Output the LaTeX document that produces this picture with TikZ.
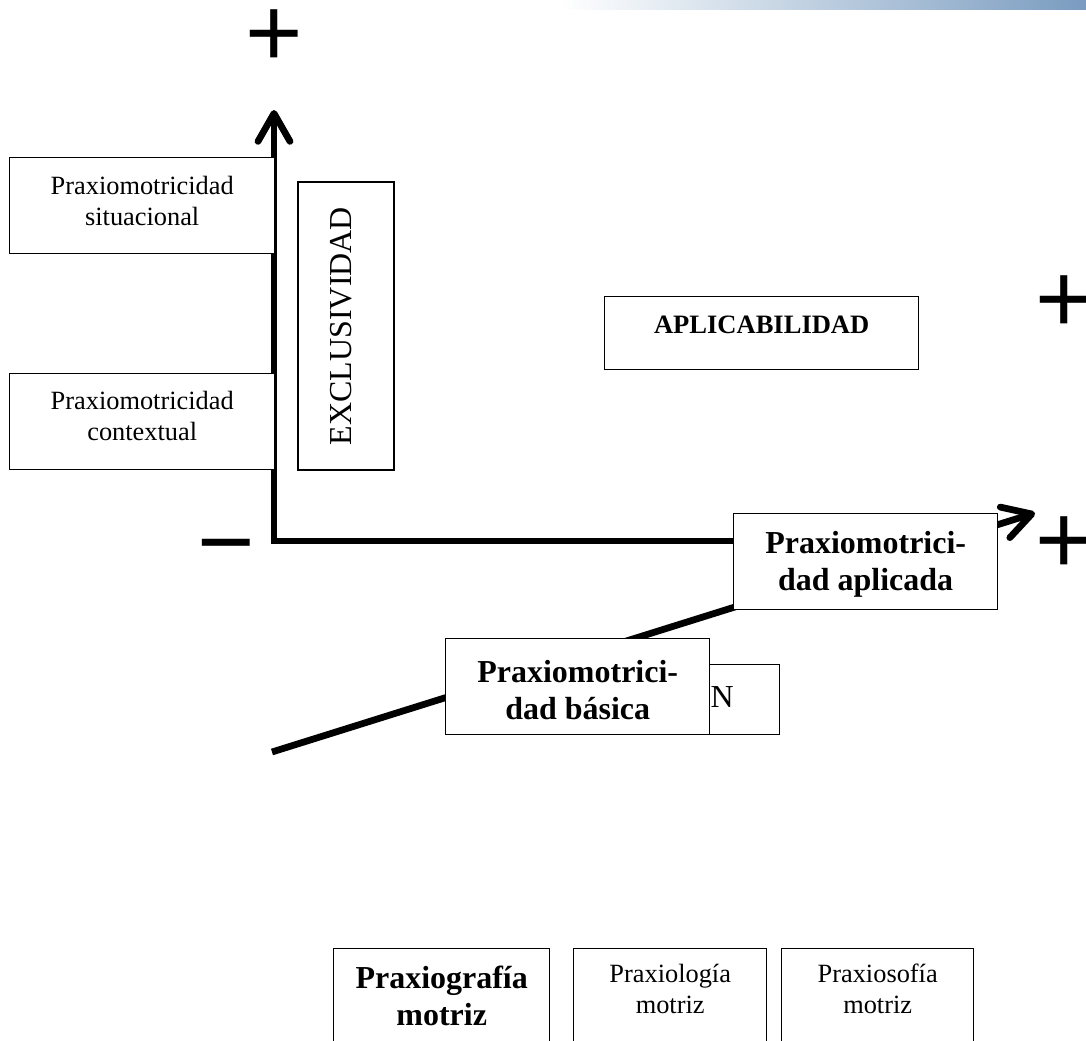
\documentclass[tikz,border=0pt]{standalone}
\usepackage{fontspec}
\setmainfont{Liberation Serif}
\newfontfamily\signfont{Liberation Sans}
\usetikzlibrary{arrows.meta}
\definecolor{bandblue}{RGB}{122,156,192}

\begin{document}
\begin{tikzpicture}[x=0.2mm,y=-0.2mm,
    box/.style={draw,fill=white,line width=0.8pt,inner sep=0pt,align=center},
    plain/.style={font=\fontsize{15}{17.6}\selectfont},
    heavy/.style={font=\fontsize{18.2}{21}\selectfont\bfseries},
    axis/.style={line width=1.35mm,-{Straight Barb[length=5.6mm,width=6.4mm,round]}},
    sign/.style={inner sep=0pt,font=\signfont\fontsize{56}{56}\selectfont}]
    \useasboundingbox (0,0) rectangle (1086,1041);
    \clip (0,0) rectangle (1086,1041);
    \shade[left color=white,right color=bandblue] (560,0) rectangle (1086,10);

    \coordinate (origin) at (274,541);
    \coordinate (ytip) at (274,110);
    \coordinate (xend) at (900,541);
    \coordinate (dstart) at (272,752);
    \coordinate (dtip) at (1035,513);

    \draw[axis] (xend) -- (origin) -- (ytip);
    \draw[axis] (dstart) -- (dtip);

    \node[sign] (ymore) at (274,38) {+};
    \node[sign] (xless) at (226,557) {−};
    \node[sign] (xmore) at (1064,545) {+};
    \node[sign] (amore) at (1064,304) {+};

    \node[box,plain,anchor=north west,minimum width=53mm,text height=13.6mm,text depth=5.6mm] (situ) at (9,157) {Praxiomotricidad\\situacional};
    \node[box,plain,anchor=north west,minimum width=53mm,text height=13.4mm,text depth=5.8mm] (contex) at (9,373) {Praxiomotricidad\\contextual};
    \node[box,rotate=90,font=\fontsize{18.2}{21}\selectfont,minimum width=57.6mm,text height=10.6mm,text depth=8.6mm] (excl) at (346,326) {EXCLUSIVIDAD};
    \node[box,font=\fontsize{15.1}{18}\selectfont\bfseries,anchor=north west,minimum width=62.8mm,text height=7.4mm,text depth=7.2mm] (aplic) at (604,296) {APLICABILIDAD};

    \node[box,font=\fontsize{18.2}{21}\selectfont,anchor=north west,align=right,inner xsep=9.2mm,text width=43.4mm,text height=8.6mm,text depth=5.4mm] (hidden) at (470,664) {ÓN};
    \node[box,heavy,anchor=north west,minimum width=52.8mm,text height=16.2mm,text depth=3mm] (basica) at (445,638) {Praxiomotrici-\\dad básica};
    \node[box,heavy,anchor=north west,minimum width=52.8mm,text height=15.4mm,text depth=3.8mm] (aplicada) at (733,513) {Praxiomotrici-\\dad aplicada};

    \node[box,heavy,anchor=north west,minimum width=43.2mm,text height=15.4mm,text depth=8.6mm] (grafia) at (333,948) {Praxiografía\\motriz};
    \node[box,plain,anchor=north west,minimum width=38.6mm,text height=13mm,text depth=11mm] (logia) at (573,948) {Praxiología\\motriz};
    \node[box,plain,anchor=north west,minimum width=38.4mm,text height=13mm,text depth=11mm] (sofia) at (781,948) {Praxiosofía\\motriz};
\end{tikzpicture}
\end{document}
